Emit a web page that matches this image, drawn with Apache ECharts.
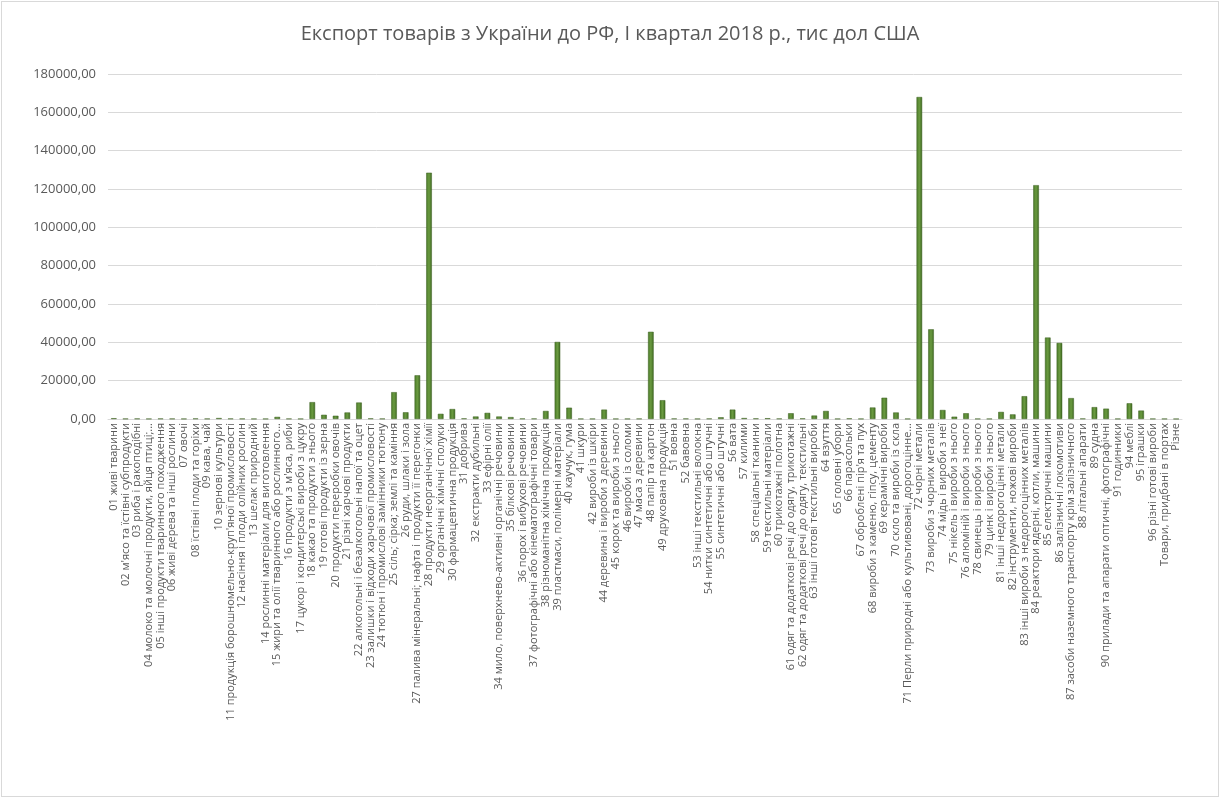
<!DOCTYPE html>
<html>
<head>
<meta charset="utf-8">
<script src="https://cdn.jsdelivr.net/npm/echarts@6/dist/echarts.min.js"></script>
<style>
html,body{margin:0;padding:0;background:#fff;}
#c{width:1218px;height:796px;margin:1px;border:1px solid #d9d9d9;box-sizing:border-box;}
</style>
</head>
<body>
<div id="c"></div>
<script>
const categories = [
"01 живі тварини",
"02 м'ясо та їстівні субпродукти",
"03 риба і ракоподібні",
"04 молоко та молочні продукти, яйця птиці;...",
"05 інші продукти тваринного походження",
"06 живі дерева та інші рослини",
"07 овочі",
"08 їстівні плоди та горіхи",
"09 кава, чай",
"10 зернові культури",
"11 продукція борошномельно-круп'яної промисловості",
"12 насіння і плоди олійних рослин",
"13 шелак природний",
"14 рослинні матеріали для виготовлення",
"15 жири та олії тваринного або рослинного...",
"16 продукти з м'яса, риби",
"17 цукор і кондитерські вироби з цукру",
"18 какао та продукти з нього",
"19 готові продукти із зерна",
"20 продукти переробки овочів",
"21 різні харчові продукти",
"22 алкогольні і безалкогольні напої та оцет",
"23 залишки і відходи харчової промисловості",
"24 тютюн і промислові замінники тютюну",
"25 сіль; сірка; землі та каміння",
"26 руди, шлаки і зола",
"27 палива мінеральні; нафта і продукти її перегонки",
"28 продукти неорганічної хімії",
"29 органічні хімічні сполуки",
"30 фармацевтична продукція",
"31 добрива",
"32 екстракти дубильні",
"33 ефірні олії",
"34 мило, поверхнево-активні органічні речовини",
"35 білкові речовини",
"36 порох і вибухові речовини",
"37 фотографічні або кінематографічні товари",
"38 різноманітна хімічна продукція",
"39 пластмаси, полімерні матеріали",
"40 каучук, гума",
"41 шкури",
"42 вироби із шкіри",
"44 деревина і вироби з деревини",
"45 корок та вироби з нього",
"46 вироби із соломи",
"47 маса з деревини",
"48 папір та картон",
"49 друкована продукція",
"51 вовна",
"52 бавовна",
"53 інші текстильні волокна",
"54 нитки синтетичні або штучні",
"55 синтетичні або штучні",
"56 вата",
"57 килими",
"58 спеціальні тканини",
"59 текстильні матеріали",
"60 трикотажні полотна",
"61 одяг та додаткові речі до одягу, трикотажні",
"62 одяг та додаткові речі до одягу, текстильні",
"63 інші готові текстильні вироби",
"64 взуття",
"65 головні убори",
"66 парасольки",
"67 оброблені пір'я та пух",
"68 вироби з каменю, гіпсу, цементу",
"69 керамічні вироби",
"70 скло та вироби із скла",
"71 Перли природні або культивовані, дорогоцінне...",
"72 чорні метали",
"73 вироби з чорних металів",
"74 мідь і вироби з неї",
"75 нікель і вироби з нього",
"76 алюміній і вироби з нього",
"78 свинець і вироби з нього",
"79 цинк і вироби з нього",
"81 інші недорогоцінні метали",
"82 інструменти, ножові вироби",
"83 інші вироби з недорогоцінних металів",
"84 реактори ядерні, котли, машини",
"85 електричні машини",
"86 залізничні локомотиви",
"87 засоби наземного транспорту крім залізничного",
"88 літальні апарати",
"89 судна",
"90 прилади та апарати оптичні, фотографічні",
"91 годинники",
"94 меблі",
"95 іграшки",
"96 різні готові вироби",
"Товари, придбані в портах",
"Різне"
];

const exportValues = [
400, 150, 200, 100, 200, 150, 100, 250, 150, 500,
200, 150, 100, 100, 1100, 150, 100, 8800, 2200, 1700,
3400, 8600, 300, 150, 14000, 3500, 22800, 128500, 2700, 5200,
300, 1300, 3200, 1300, 1000, 200, 200, 4200, 40200, 5900,
100, 100, 4900, 100, 100, 150, 45500, 9800, 200, 200,
100, 200, 900, 4900, 500, 300, 400, 200, 3000, 300,
1800, 4200, 100, 300, 100, 6000, 11100, 3400, 100, 168000,
46800, 4700, 1200, 3000, 100, 100, 3700, 2400, 11900, 122000,
42500, 39700, 10900, 200, 6200, 5400, 100, 8200, 4400, 100,
100, 50
];

const titleText = "Експорт товарів з України до РФ, І квартал 2018 р., тис дол США";

const chart = echarts.init(document.getElementById('c'));
chart.setOption({
  animation: false,
  backgroundColor: '#ffffff',
  title: {
    text: titleText,
    left: 'center',
    top: 17,
    textStyle: {fontFamily: 'Open Sans', fontSize: 20, fontWeight: 'normal', color: '#595959'}
  },
  grid: {left: 106, right: 36, top: 72, bottom: 377},
  xAxis: {
    type: 'category',
    data: categories,
    axisLine: {lineStyle: {color: '#d9d9d9'}},
    axisTick: {show: false},
    axisLabel: {
      interval: 0,
      rotate: 90,
      fontFamily: 'Open Sans',
      fontSize: 11,
      color: '#595959',
      margin: 4
    }
  },
  yAxis: {
    type: 'value',
    min: 0,
    max: 180000,
    interval: 20000,
    axisLine: {show: false},
    axisTick: {show: false},
    splitLine: {lineStyle: {color: '#d9d9d9'}},
    axisLabel: {
      fontFamily: 'Open Sans',
      fontSize: 13,
      color: '#595959',
      margin: 12,
      formatter: v => v + ',00'
    }
  },
  series: [{
    type: 'bar',
    data: exportValues,
    barCategoryGap: '52%',
    itemStyle: {
      color: new echarts.graphic.LinearGradient(0, 0, 1, 0, [
        {offset: 0, color: '#4a7a28'},
        {offset: 0.5, color: '#6a9a40'},
        {offset: 1, color: '#3f6a22'}
      ]),
      borderColor: '#3a5f1f',
      borderWidth: 0.5
    }
  }]
});
</script>
</body>
</html>
